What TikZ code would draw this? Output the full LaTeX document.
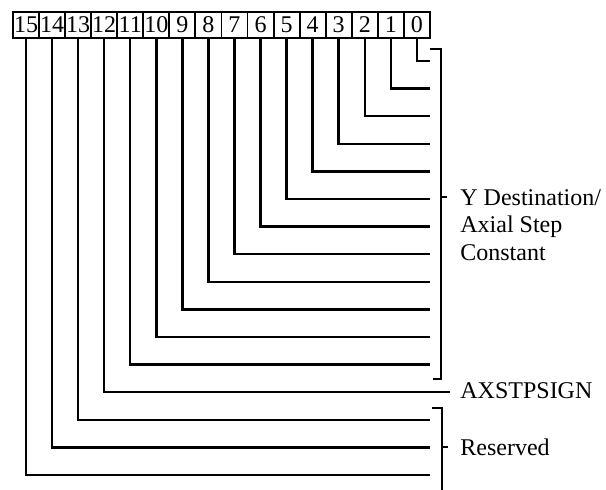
\documentclass[tikz,border=0pt]{standalone}
\usepackage{fontspec}
\setmainfont{Liberation Serif}
\usetikzlibrary{positioning}

\begin{document}
\begin{tikzpicture}[x=0.5pt,y=-0.5pt,
    bitbox/.style={draw, line width=0.9pt, minimum width=13pt, minimum height=13pt,
      inner sep=0pt, font=\fontsize{12}{13}\selectfont},
    wire/.style={line width=1.25pt},
    brace/.style={line width=1.1pt},
    field/.style={anchor=west, align=left, inner sep=0pt,
      font=\fontsize{12}{13.75}\selectfont}]
    \useasboundingbox (0,0) rectangle (606,489);

    % register bits
    \foreach \i in {0,...,15} {
        \node[bitbox] (b\i) at ({26+(15-\i)*26.06},25) {\i};
    }

    % bit wires
    \foreach \i in {0,...,15} {
        \pgfmathsetmacro\ty{61+\i*27.6}
        \pgfmathsetmacro\tx{\i==12 ? 450 : 430}
        \coordinate (e\i) at (\tx,\ty);
        \draw[wire] (b\i.south) |- (e\i);
    }

    % Y destination bracket
    \draw[brace] (430,49) -- (441,49) -- (441,379) -- (433,379);
    \draw[brace] (441,197) -- (447,197);
    \node[field] (ydest) at (460,225) {Y Destination/\\Axial Step\\Constant};

    % sign bit
    \node[field] (sign) at (460,391) {AXSTPSIGN};

    % reserved bracket
    \draw[brace] (432,408) -- (442,408) -- (442,492);
    \draw[brace] (442,447) -- (448,447);
    \node[field] (resv) at (460,447) {Reserved};
\end{tikzpicture}
\end{document}
